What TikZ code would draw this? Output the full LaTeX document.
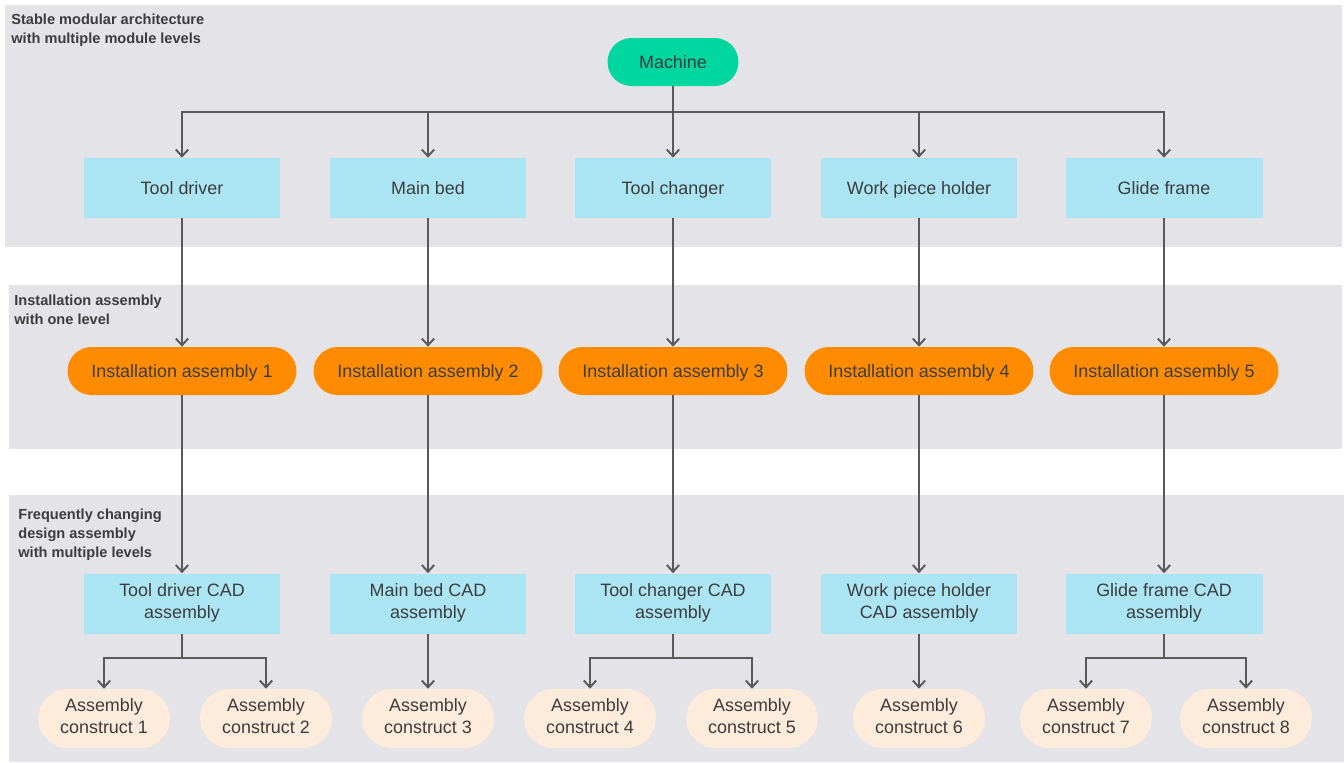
\documentclass[tikz,border=0pt]{standalone}
\usepackage{fontspec}
\setmainfont{Liberation Sans}
\usetikzlibrary{arrows.meta}
\definecolor{bandgray}{HTML}{E4E3E8}
\definecolor{boxcyan}{HTML}{ABE5F4}
\definecolor{machgreen}{HTML}{00D7A0}
\definecolor{pillorange}{HTML}{FF8C00}
\definecolor{peach}{HTML}{FDEBDC}
\definecolor{txtgray}{HTML}{3C3C3C}
\definecolor{linegray}{HTML}{595959}
% line strut for box texts (height 9.9pt, depth 2.6pt)
\newcommand{\boxstrut}{\rule[-2.6pt]{0pt}{12.5pt}}
\tikzset{
  band/.style={fill=bandgray, draw=none},
  bandlabel/.style={anchor=north west, align=left, inner sep=0pt, text=txtgray,
    font=\fontsize{8.3}{10.8}\selectfont\bfseries},
  boxtext/.style={text=txtgray, align=center, inner sep=0pt,
    font=\fontsize{10.2}{12.5}\selectfont,
    execute at begin node=\boxstrut, execute at end node=\boxstrut},
  modbox/.style={boxtext, fill=boxcyan, minimum width=3.94cm, minimum height=1.2cm},
  machine/.style={boxtext, fill=machgreen, minimum width=2.62cm, minimum height=0.96cm, rounded corners=0.48cm},
  instpill/.style={boxtext, fill=pillorange, minimum width=4.58cm, minimum height=0.96cm, rounded corners=0.48cm},
  construct/.style={boxtext, fill=peach, minimum width=2.64cm, minimum height=1.18cm, rounded corners=0.59cm},
  arr/.style={draw=linegray, line width=1.1pt, -{Straight Barb[length=3.8pt,width=7pt]}},
}
\begin{document}
\begin{tikzpicture}[x=0.02cm, y=-0.02cm]
\useasboundingbox (0,0) rectangle (1344,762);
\fill[white] (0,0) rectangle (1344,762);

% level bands
\path[band] (5,5) rectangle (1342,247);
\path[band] (9,285) rectangle (1342,449);
\path[band] (9,495) rectangle (1344,762);

\node[bandlabel] (l1) at (11,14) {Stable modular architecture\\with multiple module levels};
\node[bandlabel] (l2) at (14,295) {Installation assembly\\with one level};
\node[bandlabel] (l3) at (18,509) {Frequently changing\\design assembly\\with multiple levels};

% machine and modules
\node[machine] (m) at (673,62) {Machine};
\node[modbox] (t1) at (182,188) {Tool driver};
\node[modbox] (t2) at (428,188) {Main bed};
\node[modbox] (t3) at (673,188) {Tool changer};
\node[modbox] (t4) at (919,188) {Work piece holder};
\node[modbox] (t5) at (1164,188) {Glide frame};

% installation assemblies
\node[instpill] (i1) at (182,371) {Installation assembly 1};
\node[instpill] (i2) at (428,371) {Installation assembly 2};
\node[instpill] (i3) at (673,371) {Installation assembly 3};
\node[instpill] (i4) at (919,371) {Installation assembly 4};
\node[instpill] (i5) at (1164,371) {Installation assembly 5};

% CAD assemblies
\node[modbox] (d1) at (182,603.5) {Tool driver CAD\\assembly};
\node[modbox] (d2) at (428,603.5) {Main bed CAD\\assembly};
\node[modbox] (d3) at (673,603.5) {Tool changer CAD\\assembly};
\node[modbox] (d4) at (919,603.5) {Work piece holder\\CAD assembly};
\node[modbox] (d5) at (1164,603.5) {Glide frame CAD\\assembly};

% assembly constructs
\node[construct] (c1) at (104,718.5) {Assembly\\construct 1};
\node[construct] (c2) at (266,718.5) {Assembly\\construct 2};
\node[construct] (c3) at (428,718.5) {Assembly\\construct 3};
\node[construct] (c4) at (590,718.5) {Assembly\\construct 4};
\node[construct] (c5) at (752,718.5) {Assembly\\construct 5};
\node[construct] (c6) at (919,718.5) {Assembly\\construct 6};
\node[construct] (c7) at (1086,718.5) {Assembly\\construct 7};
\node[construct] (c8) at (1246,718.5) {Assembly\\construct 8};

% connectors
\coordinate (bus) at (673,112);
\draw[arr] (m.south) -- (bus) -| (t1.north);
\draw[arr] (bus) -| (t2.north);
\draw[arr] (bus) -- (t3.north);
\draw[arr] (bus) -| (t4.north);
\draw[arr] (bus) -| (t5.north);

\foreach \k in {1,...,5} {
  \draw[arr] (t\k.south) -- (i\k.north);
  \draw[arr] (i\k.south) -- (d\k.north);
}

\coordinate (b1) at (182,658);
\coordinate (b3) at (673,658);
\coordinate (b5) at (1164,658);
\draw[arr] (d1.south) -- (b1) -| (c1.north);
\draw[arr] (b1) -| (c2.north);
\draw[arr] (d2.south) -- (c3.north);
\draw[arr] (d3.south) -- (b3) -| (c4.north);
\draw[arr] (b3) -| (c5.north);
\draw[arr] (d4.south) -- (c6.north);
\draw[arr] (d5.south) -- (b5) -| (c7.north);
\draw[arr] (b5) -| (c8.north);
\end{tikzpicture}
\end{document}
